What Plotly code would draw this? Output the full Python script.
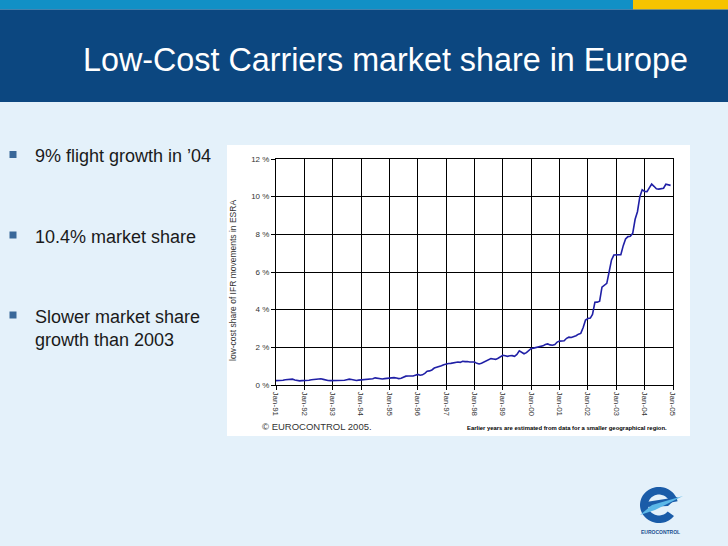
import numpy as np
import pandas as pd
import plotly.graph_objects as go

W, H = 728, 546

# Low-cost share of IFR movements in ESRA (%), monthly Jan-91 .. Dec-04
share_1991 = [0.23, 0.24, 0.22, 0.25, 0.28, 0.30, 0.33, 0.31, 0.27, 0.24, 0.22, 0.23]
share_1992 = [0.24, 0.22, 0.25, 0.28, 0.29, 0.27, 0.30, 0.33, 0.30, 0.26, 0.24, 0.23]
share_1993 = [0.23, 0.23, 0.24, 0.24, 0.23, 0.25, 0.28, 0.31, 0.29, 0.25, 0.24, 0.26]
share_1994 = [0.27, 0.28, 0.28, 0.29, 0.30, 0.33, 0.38, 0.36, 0.33, 0.32, 0.34, 0.36]
share_1995 = [0.38, 0.40, 0.39, 0.37, 0.34, 0.36, 0.42, 0.47, 0.48, 0.47, 0.48, 0.52]
share_1996 = [0.56, 0.52, 0.54, 0.62, 0.73, 0.75, 0.80, 0.90, 0.93, 0.95, 1.02, 1.08]
share_1997 = [1.12, 1.14, 1.15, 1.18, 1.17, 1.22, 1.20, 1.26, 1.24, 1.25, 1.22, 1.24]
share_1998 = [1.22, 1.15, 1.12, 1.16, 1.22, 1.28, 1.33, 1.40, 1.38, 1.36, 1.42, 1.50]
share_1999 = [1.58, 1.55, 1.52, 1.55, 1.56, 1.52, 1.62, 1.81, 1.72, 1.66, 1.72, 1.82]
share_2000 = [1.94, 1.96, 1.98, 2.02, 2.05, 2.08, 2.15, 2.18, 2.13, 2.11, 2.15, 2.28]
share_2001 = [2.33, 2.32, 2.35, 2.48, 2.54, 2.52, 2.55, 2.62, 2.70, 2.74, 3.05, 3.45]
share_2002 = [3.53, 3.55, 3.75, 4.39, 4.40, 4.45, 5.20, 5.28, 5.40, 6.00, 6.64, 6.90]
share_2003 = [6.90, 6.90, 6.92, 7.40, 7.75, 7.88, 7.90, 8.05, 8.80, 9.20, 10.00, 10.37]
share_2004 = [10.28, 10.27, 10.45, 10.67, 10.55, 10.42, 10.40, 10.42, 10.45, 10.66, 10.62, 10.60]

shares = (share_1991 + share_1992 + share_1993 + share_1994 + share_1995 + share_1996
          + share_1997 + share_1998 + share_1999 + share_2000 + share_2001 + share_2002
          + share_2003 + share_2004)
months = pd.date_range("1991-01-01", periods=len(shares), freq="MS")

bullets = ["9% flight growth in \u201904", "10.4% market share",
           "Slower market share<br>growth than 2003"]


def px(x):
    return x / W


def py(y):
    return 1 - y / H


def poly(points):
    return "M " + " L ".join(f"{px(x):.5f},{py(y):.5f}" for x, y in points) + " Z"


fig = go.Figure()
fig.add_trace(go.Scatter(x=months, y=shares, mode="lines",
                         line=dict(color="#2020a6", width=1.6),
                         hoverinfo="skip"))

shapes = [
    # slide header
    dict(type="rect", x0=0, x1=px(633), y0=py(9.5), y1=1, fillcolor="#1190c6"),
    dict(type="rect", x0=px(633), x1=1, y0=py(9.5), y1=1, fillcolor="#f6c300"),
    dict(type="rect", x0=0, x1=1, y0=py(102), y1=py(9.5), fillcolor="#0c4780"),
    # chart box
    dict(type="rect", x0=px(227), x1=px(690), y0=py(436), y1=py(145), fillcolor="white"),
]
for yb in [154.5, 235, 315]:
    shapes.append(dict(type="rect", x0=px(9.5), x1=px(16.5), y0=py(yb + 3.5), y1=py(yb - 3.5),
                       fillcolor="#3a6899"))

# logo "e"
ang = np.radians(np.linspace(12, 322, 60))
cx, cy, ro, ri = 659, 505, 19, 11
outer = [(cx + ro * np.cos(a), cy - ro * 0.95 * np.sin(a)) for a in ang]
inner = [(cx + ri * np.cos(a), cy - ri * 0.95 * np.sin(a)) for a in ang[::-1]]
shapes.append(dict(type="path", path=poly(outer + inner), fillcolor="#1a5ca8"))
shapes.append(dict(type="path", fillcolor="#1a5ca8",
                   path=poly([(646, 507), (646, 502), (678, 497), (668, 506)])))
shapes.append(dict(type="path", fillcolor="#5bb8e8",
                   path=poly([(640, 515), (652, 505), (683, 496), (655, 510)])))

for s in shapes:
    s.update(xref="paper", yref="paper", layer="below", line=dict(width=0))

annotations = [
    dict(text="Low-Cost Carriers market share in Europe", x=px(81), y=py(60),
         xanchor="left", yanchor="middle",
         font=dict(family="Arial, Liberation Sans", size=32.3, color="white")),
    dict(text="low-cost share of IFR movements in ESRA", x=px(233), y=py(280),
         textangle=-90, xanchor="center", yanchor="middle",
         font=dict(family="Arial, Liberation Sans", size=8.5, color="#333333")),
    dict(text="\u00a9 EUROCONTROL 2005.", x=px(260), y=py(426),
         xanchor="left", yanchor="middle",
         font=dict(family="Arial, Liberation Sans", size=9.5, color="#333333")),
    dict(text="<b>Earlier years are estimated from data for a smaller geographical region.</b>",
         x=px(669), y=py(428), xanchor="right", yanchor="middle",
         font=dict(family="Liberation Sans Narrow, Arial, Liberation Sans", size=5.9, color="black")),
    dict(text="<b>EUROCONTROL</b>", x=px(660), y=py(532), xanchor="center", yanchor="middle",
         font=dict(family="Arial, Liberation Sans", size=5, color="#1a4f90")),
]
for yb, txt in zip([154.5, 235, 315], bullets):
    annotations.append(dict(text=txt, x=px(33), y=py(yb - 10.5), xanchor="left", yanchor="top",
                            align="left",
                            font=dict(family="Arial, Liberation Sans", size=18, color="#1a1a1a")))
for a in annotations:
    a.update(xref="paper", yref="paper", showarrow=False)

axis_font = dict(family="Arial, Liberation Sans", size=8, color="#333333")
fig.update_layout(
    width=W, height=H,
    margin=dict(l=0, r=0, t=0, b=0, pad=0),
    paper_bgcolor="#e4f1fa",
    plot_bgcolor="white",
    showlegend=False,
    shapes=shapes,
    annotations=annotations,
    xaxis=dict(domain=[px(276), px(673)], type="date", automargin=False,
               range=["1991-01-01", "2005-01-01"],
               tick0="1991-01-01", dtick="M12", tickformat="%b-%y", tickangle=90,
               showgrid=True, gridcolor="black", gridwidth=1,
               showline=True, linecolor="black", linewidth=1, mirror=True,
               ticks="outside", ticklen=4, tickcolor="black",
               tickfont=axis_font, zeroline=False),
    yaxis=dict(domain=[py(385), py(159)], range=[0, 12], dtick=2, ticksuffix=" %",
               automargin=False,
               showgrid=True, gridcolor="black", gridwidth=1,
               showline=True, linecolor="black", linewidth=1, mirror=True,
               ticks="outside", ticklen=4, tickcolor="black",
               tickfont=axis_font, zeroline=False),
)

fig.write_html("out.html", config={"displayModeBar": False},
               post_script="document.body.style.margin='0';")
